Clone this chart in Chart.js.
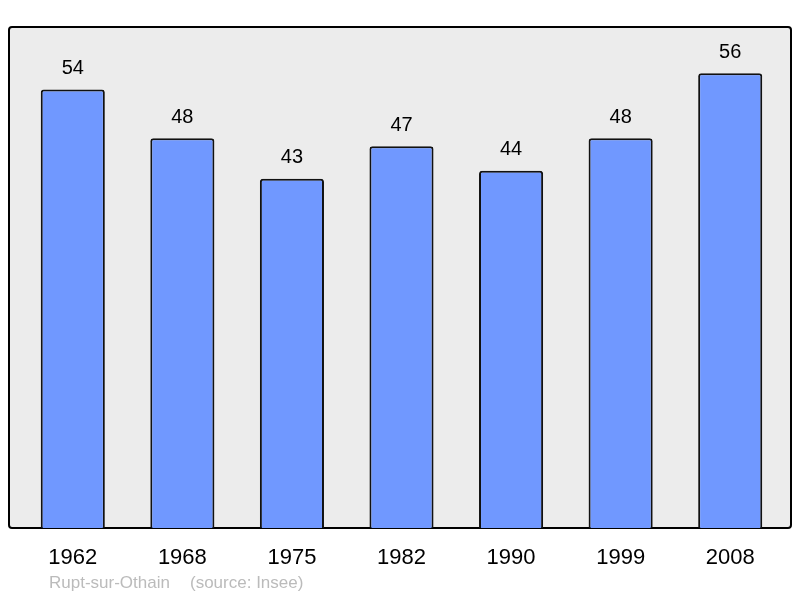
<!DOCTYPE html>
<html lang="fr">
<head>
    <meta charset="UTF-8">
    <title>Rupt-sur-Othain</title>
    <script src="https://cdn.jsdelivr.net/npm/chart.js@4.4.1/dist/chart.umd.min.js"></script>
    <style>
        *{margin:0; padding:0;}
        body{background:#fff;}
        #wrap{width:800px; height:598px; position:relative;}
    </style>
</head>
<body>
    <div id="wrap">
        <canvas id="popChart" width="800" height="598"></canvas>
    </div>

    <script>
        const years = ['1962','1968','1975','1982','1990','1999','2008']
        const population = [54,48,43,47,44,48,56]
        const placeName = 'Rupt-sur-Othain'
        const sourceText = '(source: Insee)'

        // grey box behind the bars, value labels, footer
        const decor = {
            id:'decor',
            beforeDraw:function(chart){
                const ctx = chart.ctx
                const a = chart.chartArea
                const l = a.left - 9, r = a.right + 6
                ctx.save()
                ctx.fillStyle = '#ececec'
                ctx.strokeStyle = '#000'
                ctx.lineWidth = 2
                ctx.beginPath()
                ctx.roundRect(l, a.top, r - l, a.bottom - a.top, 3)
                ctx.fill()
                ctx.stroke()
                ctx.restore()
            },
            afterDraw:function(chart){
                const ctx = chart.ctx
                const meta = chart.getDatasetMeta(0)
                ctx.save()
                ctx.font = '20px "Liberation Sans", Arial, sans-serif'
                ctx.fillStyle = '#000'
                ctx.textAlign = 'center'
                ctx.textBaseline = 'middle'
                meta.data.forEach(function(el, i){
                    ctx.fillText(population[i], el.x, el.y - 21)
                })
                ctx.font = '17px "Liberation Sans", Arial, sans-serif'
                ctx.fillStyle = '#bbbbbb'
                ctx.textAlign = 'left'
                ctx.fillText(placeName, 49, 583)
                ctx.fillText(sourceText, 190, 583)
                ctx.restore()
            }
        }

        const config = {
            type:'bar',
            data:{
                labels:years,
                datasets:[{
                    data:population,
                    backgroundColor:'#7098ff',
                    borderColor:'#111',
                    borderWidth:2,
                    borderRadius:3,
                    borderSkipped:'bottom',
                    barPercentage:0.585,
                    categoryPercentage:1
                }]
            },
            options:{
                responsive:false,
                animation:false,
                layout:{padding:{left:18, right:15, top:27, bottom:0}},
                plugins:{legend:{display:false}, tooltip:{enabled:false}},
                scales:{
                    x:{
                        grid:{display:false, drawTicks:false},
                        border:{display:false},
                        ticks:{
                            color:'#000',
                            padding:17,
                            font:{size:22, family:'"Liberation Sans", Arial, sans-serif'}
                        },
                        afterFit:function(s){ s.height = 70 }
                    },
                    y:{
                        display:false,
                        min:0,
                        max:61.7
                    }
                }
            },
            plugins:[decor]
        }

        const ctx = document.querySelector('#popChart').getContext('2d')
        new Chart(ctx, config)
    </script>
</body>
</html>
